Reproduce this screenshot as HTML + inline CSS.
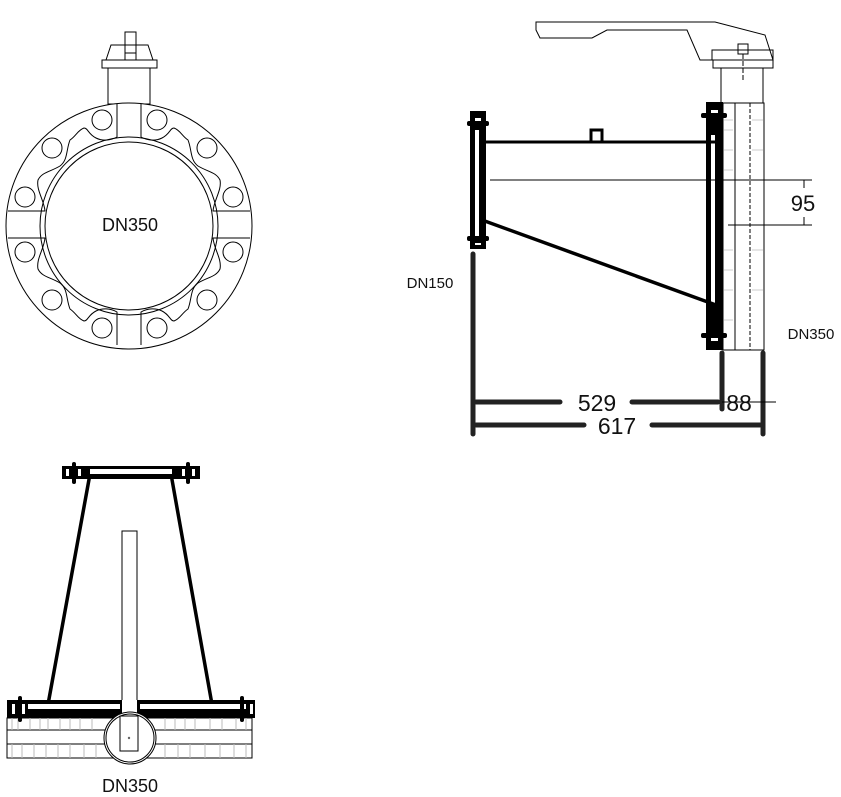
<!DOCTYPE html>
<html><head><meta charset="utf-8"><style>
html,body{margin:0;padding:0;background:#fff;}
svg{display:block;}
text{font-family:"Liberation Sans",Arial,sans-serif;fill:#111;}
</style></head><body>
<svg width="841" height="797" viewBox="0 0 841 797" xmlns="http://www.w3.org/2000/svg">
<!-- ===== Front view (top-left) ===== -->
<g fill="none" stroke="#000" stroke-width="1">
  <rect x="108" y="68" width="42" height="36" fill="#fff"/>
  <rect x="102" y="60" width="55" height="8"/>
  <polygon points="106,60 111,45 148,45 153,60"/>
  <rect x="125" y="32" width="11" height="28"/>
  <line x1="125" y1="45" x2="136" y2="45"/>
  <line x1="125" y1="53" x2="136" y2="53"/>
  <circle cx="129" cy="226" r="123" fill="#fff"/>
  <circle cx="129" cy="226" r="89"/>
  <circle cx="129" cy="226" r="84" fill="#fff"/>
  <g id="lug">
    <path d="M117,104 L117,137 C110,141 102,141 96,138 C88,134 88,128 84,128 C78,130 76,136 70,140 C66,150 68,160 60,166 C50,172 42,172 38,180 C36,190 44,200 45,211 L8,211" stroke-linejoin="round"/>
  </g>
  <use href="#lug" transform="translate(258,0) scale(-1,1)"/>
  <use href="#lug" transform="translate(0,449) scale(1,-1)"/>
  <use href="#lug" transform="translate(258,449) scale(-1,-1)"/>
  <g fill="#fff">
    <circle cx="102" cy="120" r="10"/><circle cx="157" cy="120" r="10"/>
    <circle cx="52" cy="148" r="10"/><circle cx="207" cy="148" r="10"/>
    <circle cx="25" cy="197" r="10"/><circle cx="233" cy="197" r="10"/>
    <circle cx="25" cy="252" r="10"/><circle cx="233" cy="252" r="10"/>
    <circle cx="52" cy="300" r="10"/><circle cx="207" cy="300" r="10"/>
    <circle cx="102" cy="328" r="10"/><circle cx="157" cy="328" r="10"/>
  </g>
</g>
<text x="130" y="231" font-size="18" text-anchor="middle">DN350</text>

<!-- ===== Side view (right) ===== -->
<g fill="none" stroke="#000" stroke-width="1">
  <polygon points="536,22 715,22 765,35 773,60 700,60 687,30 607,30 592,38 540,38 536,30" fill="#fff"/>
  <rect x="712" y="50" width="61" height="10"/>
  <rect x="713" y="60" width="60" height="8"/>
  <rect x="738" y="44" width="10" height="10"/>
  <line x1="743" y1="54" x2="743" y2="82" stroke-dasharray="5,2"/>
  <rect x="721" y="68" width="42" height="35"/>
  <rect x="723" y="103" width="41" height="247"/>
  <line x1="735" y1="103" x2="735" y2="350"/>
  <line x1="750" y1="103" x2="750" y2="350" stroke-dasharray="4,2"/>
</g>
<g stroke="#ccc" stroke-width="1">
  <line x1="724" y1="120" x2="733" y2="120"/><line x1="724" y1="130" x2="733" y2="130"/>
  <line x1="724" y1="150" x2="733" y2="150"/><line x1="724" y1="170" x2="733" y2="170"/>
  <line x1="724" y1="250" x2="733" y2="250"/><line x1="724" y1="270" x2="733" y2="270"/>
  <line x1="724" y1="290" x2="733" y2="290"/><line x1="724" y1="320" x2="733" y2="320"/>
  <line x1="752" y1="120" x2="763" y2="120"/><line x1="752" y1="150" x2="763" y2="150"/>
  <line x1="752" y1="250" x2="763" y2="250"/><line x1="752" y1="290" x2="763" y2="290"/>
</g>
<!-- right flange -->
<rect x="706" y="102" width="17" height="248" fill="#000"/>
<rect x="711" y="135" width="4" height="170" fill="#fff"/>
<rect x="711" y="110" width="7" height="3" fill="#fff"/>
<rect x="711" y="338" width="7" height="3" fill="#fff"/>
<rect x="701" y="113" width="26" height="5" rx="2" fill="#000"/>
<rect x="701" y="333" width="26" height="5" rx="2" fill="#000"/>
<!-- left flange -->
<rect x="470" y="111" width="16" height="138" fill="#000"/>
<rect x="475" y="130" width="4" height="110" fill="#fff"/>
<rect x="475" y="118" width="6" height="3" fill="#fff"/>
<rect x="475" y="243" width="6" height="2" fill="#fff"/>
<rect x="467" y="121" width="22" height="5" rx="2" fill="#000"/>
<rect x="467" y="236" width="22" height="5" rx="2" fill="#000"/>
<!-- body -->
<line x1="485" y1="142" x2="716" y2="142" stroke="#000" stroke-width="3"/>
<rect x="591" y="130" width="11" height="12" fill="#fff" stroke="#000" stroke-width="3"/>
<line x1="482" y1="220" x2="716" y2="305" stroke="#000" stroke-width="3.5"/>
<line x1="490" y1="180" x2="812" y2="180" stroke="#000" stroke-width="1"/>
<line x1="728" y1="225" x2="812" y2="225" stroke="#000" stroke-width="1"/>
<line x1="804" y1="180" x2="804" y2="188" stroke="#000"/>
<line x1="804" y1="217" x2="804" y2="225" stroke="#000"/>
<text x="803" y="211" font-size="22" text-anchor="middle">95</text>
<!-- dims -->
<g stroke="#222" stroke-width="5" stroke-linecap="round">
  <line x1="473" y1="254" x2="473" y2="434"/>
  <line x1="722" y1="353" x2="722" y2="409"/>
  <line x1="763" y1="353" x2="763" y2="434"/>
  <line x1="476" y1="402" x2="560" y2="402"/>
  <line x1="632" y1="402" x2="718" y2="402"/>
  <line x1="476" y1="425" x2="584" y2="425"/>
  <line x1="652" y1="425" x2="760" y2="425"/>
</g>
<line x1="722" y1="402" x2="776" y2="402" stroke="#000" stroke-width="1"/>
<text x="597" y="411" font-size="23" text-anchor="middle">529</text>
<text x="739" y="411" font-size="23" text-anchor="middle">88</text>
<text x="617" y="434" font-size="23" text-anchor="middle">617</text>
<text x="430" y="288" font-size="15" text-anchor="middle">DN150</text>
<text x="811" y="339" font-size="15" text-anchor="middle">DN350</text>

<!-- ===== Bottom view ===== -->
<g fill="none" stroke="#000" stroke-width="1">
  <rect x="7" y="718" width="245" height="40"/>
  <line x1="7" y1="730" x2="252" y2="730"/>
  <line x1="7" y1="744" x2="252" y2="744"/>
</g>
<g stroke="#bbb" stroke-width="1">
  <path d="M12,718V730M18,718V730M30,718V730M40,718V730M48,718V730M60,718V730M70,718V730M80,718V730M92,718V730M165,718V730M175,718V730M185,718V730M195,718V730M210,718V730M222,718V730M236,718V730M246,718V730M12,744V758M22,744V758M34,744V758M46,744V758M58,744V758M70,744V758M84,744V758M96,744V758M165,744V758M178,744V758M190,744V758M205,744V758M220,744V758M234,744V758M246,744V758"/>
</g>
<path d="M90,474 L47,710 M171,474 L213,710" stroke="#000" stroke-width="3.5" fill="none"/>
<rect x="122" y="531" width="15" height="170" fill="#fff" stroke="#000" stroke-width="1"/>
<rect x="62" y="466" width="138" height="13" fill="#000"/>
<rect x="90" y="469" width="82" height="5" fill="#fff"/>
<rect x="66" y="469" width="3" height="7" fill="#fff"/><rect x="78" y="469" width="3" height="7" fill="#fff"/>
<rect x="182" y="469" width="3" height="7" fill="#fff"/><rect x="192" y="469" width="3" height="7" fill="#fff"/>
<rect x="72" y="462" width="4" height="22" rx="2" fill="#000"/>
<rect x="186" y="462" width="4" height="22" rx="2" fill="#000"/>
<rect x="7" y="700" width="248" height="18" fill="#000"/>
<rect x="28" y="704" width="92" height="5" fill="#fff"/>
<rect x="140" y="704" width="106" height="5" fill="#fff"/>
<rect x="12" y="704" width="3" height="10" fill="#fff"/><rect x="22" y="704" width="3" height="10" fill="#fff"/>
<rect x="240" y="704" width="3" height="10" fill="#fff"/><rect x="250" y="704" width="3" height="10" fill="#fff"/>
<rect x="122" y="700" width="15" height="18" fill="#fff"/>
<rect x="18" y="696" width="4" height="26" rx="2" fill="#000"/>
<rect x="240" y="696" width="4" height="26" rx="2" fill="#000"/>
<circle cx="130" cy="738" r="26" fill="#fff" stroke="#000" stroke-width="1"/>
<circle cx="130" cy="738" r="24" fill="none" stroke="#000" stroke-width="1"/>
<rect x="120" y="716" width="18" height="35" fill="none" stroke="#000" stroke-width="1"/>
<circle cx="129" cy="738" r="1.2" fill="#666"/>
<text x="130" y="792" font-size="18" text-anchor="middle">DN350</text>
</svg>
</body></html>
